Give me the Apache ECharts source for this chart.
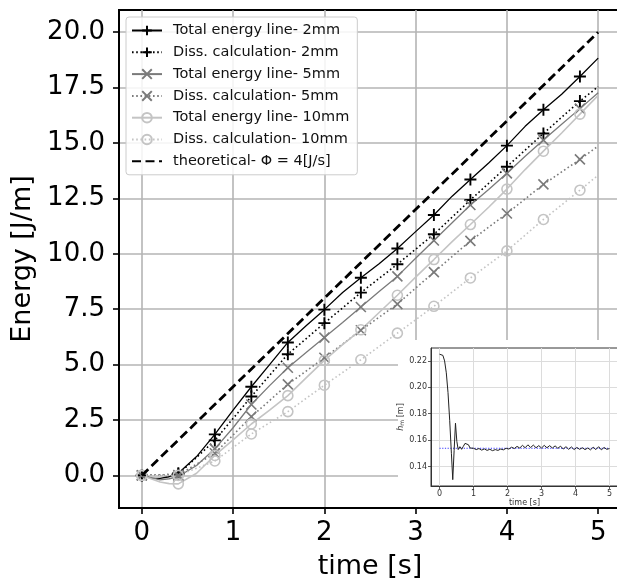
<!DOCTYPE html>
<html>
<head>
<meta charset="utf-8">
<script src="https://cdn.jsdelivr.net/npm/echarts@6/dist/echarts.min.js"></script>
<style>
html,body{margin:0;padding:0;background:#fff;}
#chart{width:617px;height:581px;}
</style>
</head>
<body>
<div id="chart"></div>
<script>
// ---- main chart data ----
const tTotal = [0,0.1,0.2,0.3,0.4,0.6,0.8,1.0,1.2,1.4,1.6,1.8,2.0,2.2,2.4,2.6,2.8,3.0,3.2,3.4,3.6,3.8,4.0,4.2,4.4,4.6,4.8,5.0];
const total2mm  = [0,-0.12,-0.13,-0.06,0.1,0.85,1.85,2.95,4.0,5.0,6.0,6.75,7.48,8.25,8.92,9.55,10.24,11.0,11.75,12.6,13.35,14.1,14.88,15.75,16.5,17.2,18.0,18.83];
const total5mm  = [0,-0.1,-0.2,-0.15,-0.05,0.45,1.2,2.15,3.2,4.05,4.86,5.55,6.22,6.9,7.6,8.3,8.98,9.8,10.6,11.4,12.2,12.9,13.63,14.4,15.13,15.85,16.55,17.27];
const total10mm = [0,-0.15,-0.3,-0.37,-0.38,0.1,0.9,1.6,2.32,2.95,3.6,4.4,5.19,5.9,6.57,7.35,8.13,8.95,9.74,10.55,11.32,12.1,12.92,13.8,14.63,15.45,16.3,17.15];

const tDiss = [0,0.4,0.8,1.2,1.6,2.0,2.4,2.8,3.2,3.6,4.0,4.4,4.8,5.0];
const diss2mm  = [0,0.05,1.58,3.56,5.47,6.87,8.25,9.53,10.88,12.43,13.93,15.43,16.89,17.54];
const diss5mm  = [0,0.02,1.0,2.65,4.11,5.31,6.55,7.73,9.17,10.58,11.82,13.13,14.26,14.86];
const diss10mm = [0,0.0,0.65,1.87,2.88,4.07,5.22,6.42,7.63,8.91,10.13,11.55,12.87,13.55];

const tTheory = [0,5];
const eTheory = [0,20];

const markerTimes = [0,0.4,0.8,1.2,1.6,2.0,2.4,2.8,3.2,3.6,4.0,4.4,4.8];

const xTicks = [0,1,2,3,4,5];
const yTicks = [0,2.5,5,7.5,10,12.5,15,17.5,20];

const names = [
  'Total energy line- 2mm','Diss. calculation- 2mm',
  'Total energy line- 5mm','Diss. calculation- 5mm',
  'Total energy line- 10mm','Diss. calculation- 10mm',
  'theoretical- \u03A6 = 4[J/s]'
];

// ---- inset data ----
const insetT = [0,0.05,0.10,0.15,0.20,0.25,0.30,0.35,0.39,0.43,0.47,0.51,0.55,0.60,0.65,0.70,0.75,0.80,0.85,0.90,0.95,
  1.00,1.08,1.16,1.24,1.32,1.40,1.48,1.56,1.64,1.72,1.80,1.88,1.96,2.04,2.12,2.20,2.28,2.36,2.44,2.52,2.60,2.68,2.76,2.84,2.92,
  3.00,3.08,3.16,3.24,3.32,3.40,3.48,3.56,3.64,3.72,3.80,3.88,3.96,4.04,4.12,4.20,4.28,4.36,4.44,4.52,4.60,4.68,4.76,4.84,4.92,5.00];
const insetH = [0.2251,0.2250,0.2242,0.2200,0.2110,0.1960,0.1750,0.1500,0.1300,0.1520,0.1728,0.1590,0.1528,0.1550,0.1530,0.1552,0.1575,0.1587,0.1565,0.1540,0.1548,
  0.1538,0.1528,0.1536,0.1524,0.1533,0.1522,0.1530,0.1520,0.1528,0.1522,0.1532,0.1526,0.1538,0.1532,0.1546,0.1536,0.1552,0.1540,0.1560,0.1542,0.1564,0.1544,0.1562,0.1542,0.1558,
  0.1540,0.1560,0.1542,0.1558,0.1540,0.1556,0.1538,0.1554,0.1532,0.1550,0.1530,0.1548,0.1528,0.1544,0.1530,0.1542,0.1528,0.1540,0.1526,0.1546,0.1528,0.1550,0.1526,0.1544,0.1530,0.1536];
const insetRefT = [0,5];
const insetRefH = [0.1538,0.1538];
const insetXTicks = [0,1,2,3,4,5];
const insetYTicks = [0.14,0.16,0.18,0.20,0.22];

// ---- helpers ----
const FONT = 'DejaVu Sans';
const c2 = '#000000', c5 = '#7a7a7a', c10 = '#c4c4c4';
const PLUS = 'path://M5,0L5,10M0,5L10,5';
const CROSS = 'path://M0,0L10,10M10,0L0,10';

function isMarker(t){ return markerTimes.some(m => Math.abs(m - t) < 1e-6); }
function pairs(ts, vs, marked){
  return ts.map((t,i) => marked && !isMarker(t) ? {value:[t,vs[i]], symbol:'none'} : {value:[t,vs[i]]});
}
function energySeries(name, ts, vs, color, symbol, size, dotted, width, mw){
  return {
    name, type:'line', xAxisIndex:0, yAxisIndex:0,
    data: pairs(ts, vs, true),
    symbol, symbolSize:size, showAllSymbol:true,
    lineStyle:{color, width, type: dotted ? [1.6,2.6] : 'solid'},
    itemStyle:{color:'rgba(0,0,0,0)', borderColor:color, borderWidth:mw},
    emphasis:{disabled:true}, z:3, clip:true
  };
}

const chart = echarts.init(document.getElementById('chart'), null, {renderer:'canvas'});
const option = {
  animation:false,
  backgroundColor:'#ffffff',
  textStyle:{fontFamily:FONT},
  grid:[
    {left:119, top:10, right:-4, bottom:73, show:true, borderColor:'#000', borderWidth:2,
     backgroundColor:'rgba(0,0,0,0)', containLabel:false, outerBoundsMode:'none', z:0},
    {left:431, top:348, right:-1, bottom:95, show:true, borderColor:'#333', borderWidth:1,
     backgroundColor:'#ffffff', containLabel:false, outerBoundsMode:'none', z:6}
  ],
  graphic:[{type:'rect', left:398, top:340, shape:{width:219, height:167}, style:{fill:'#ffffff'}, z:5, silent:true}],
  xAxis:[
    {type:'value', gridIndex:0, min:-0.25, max:5.25,
     name:'time [s]', nameLocation:'middle', nameGap:45,
     nameTextStyle:{fontSize:27, color:'#000', fontFamily:FONT},
     axisLine:{show:true, onZero:false, lineStyle:{color:'#000', width:2}},
     axisTick:{show:true, length:6, lineStyle:{color:'#000', width:1.6}, customValues:xTicks},
     axisLabel:{fontSize:26, color:'#000', margin:12, customValues:xTicks, formatter:v=>String(v), fontFamily:FONT},
     splitLine:{show:true, lineStyle:{color:'#b4b4b4', width:1.6}}},
    {type:'value', gridIndex:1, min:-0.25, max:5.25, z:10,
     name:'time [s]', nameLocation:'middle', nameGap:12,
     nameTextStyle:{fontSize:8, color:'#333', fontFamily:FONT},
     axisLine:{show:true, onZero:false, lineStyle:{color:'#333', width:1}},
     axisTick:{show:true, length:3, lineStyle:{color:'#333', width:0.8}, customValues:insetXTicks},
     axisLabel:{fontSize:8, color:'#333', margin:4, customValues:insetXTicks, formatter:v=>String(v), fontFamily:FONT},
     splitLine:{show:true, lineStyle:{color:'#dcdcdc', width:1}}}
  ],
  yAxis:[
    {type:'value', gridIndex:0, min:-1.47, max:21.0,
     name:'Energy [J/m]', nameLocation:'middle', nameGap:82,
     nameTextStyle:{fontSize:27, color:'#000', fontFamily:FONT},
     axisLine:{show:true, onZero:false, lineStyle:{color:'#000', width:2}},
     axisTick:{show:true, length:6, lineStyle:{color:'#000', width:1.6}, customValues:yTicks},
     axisLabel:{fontSize:26, color:'#000', margin:14, customValues:yTicks, formatter:v=>v.toFixed(1), fontFamily:FONT},
     splitLine:{show:true, lineStyle:{color:'#b4b4b4', width:1.6}}},
    {type:'value', gridIndex:1, min:0.1252, max:0.2298, z:10,
     name:'{i|h}{s|m} [m]', nameLocation:'middle', nameGap:26,
     nameTextStyle:{fontSize:8, color:'#333', fontFamily:FONT,
       rich:{i:{fontSize:8, fontStyle:'italic', color:'#333', fontFamily:FONT},
             s:{fontSize:6, color:'#333', verticalAlign:'bottom', fontFamily:FONT}}},
     axisLine:{show:true, onZero:false, lineStyle:{color:'#333', width:1}},
     axisTick:{show:true, length:3, lineStyle:{color:'#333', width:0.8}, customValues:insetYTicks},
     axisLabel:{fontSize:8, color:'#333', margin:4, customValues:insetYTicks, formatter:v=>v.toFixed(2), fontFamily:FONT},
     splitLine:{show:true, lineStyle:{color:'#dcdcdc', width:1}}}
  ],
  legend:{
    data:[names[0],names[1],names[2],names[3],names[4],names[5],
          {name:names[6], itemStyle:{color:'rgba(0,0,0,0)', borderWidth:0, opacity:0}}],
    orient:'vertical', left:126, top:17,
    itemWidth:30, itemHeight:12, itemGap:6.8,
    padding:[6,8,6,5],
    backgroundColor:'rgba(255,255,255,0.85)', borderColor:'#cccccc', borderWidth:1, borderRadius:3,
    textStyle:{fontSize:14.5, color:'#111', fontFamily:FONT, padding:[0,0,0,6]},
    selectedMode:false, z:20
  },
  series:[
    energySeries(names[0], tTotal, total2mm, c2, PLUS, 12, false, 1.3, 1.9),
    energySeries(names[1], tDiss, diss2mm, c2, PLUS, 12, true, 1.6, 1.9),
    energySeries(names[2], tTotal, total5mm, c5, CROSS, 10, false, 1.3, 1.6),
    energySeries(names[3], tDiss, diss5mm, c5, CROSS, 10, true, 1.6, 1.6),
    energySeries(names[4], tTotal, total10mm, c10, 'circle', 10, false, 1.6, 1.6),
    energySeries(names[5], tDiss, diss10mm, c10, 'circle', 10, true, 1.6, 1.6),
    {name:names[6], type:'line', xAxisIndex:0, yAxisIndex:0,
     data: pairs(tTheory, eTheory, false), symbol:'none',
     lineStyle:{color:'#000', width:2.8, type:[9,4.5]}, itemStyle:{color:'#000'},
     emphasis:{disabled:true}, z:4},
    {name:'inset-ref', type:'line', xAxisIndex:1, yAxisIndex:1,
     data: pairs(insetRefT, insetRefH, false), symbol:'none',
     lineStyle:{color:'#3a3aff', width:1, type:[1.2,1.5]}, emphasis:{disabled:true}, z:11},
    {name:'inset-h', type:'line', xAxisIndex:1, yAxisIndex:1,
     data: pairs(insetT, insetH, false), symbol:'none',
     lineStyle:{color:'#222', width:1}, emphasis:{disabled:true}, z:12}
  ]
};
chart.setOption(option);
</script>
</body>
</html>
